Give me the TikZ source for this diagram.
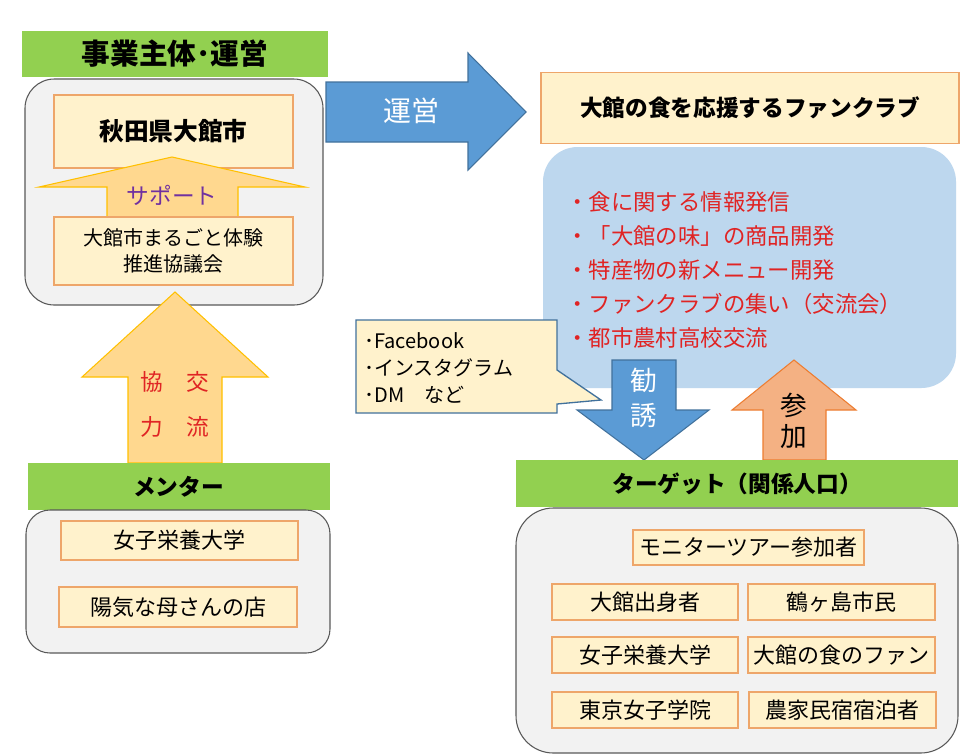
\documentclass[tikz,border=0pt]{standalone}
\usepackage{fontspec}
\setmainfont{Noto Sans CJK JP}
\usepackage{xcolor}
\usepackage{tikz}
\usetikzlibrary{positioning}
\definecolor{hdrgreen}{HTML}{92D050}
\definecolor{panelgray}{HTML}{F2F2F2}
\definecolor{paneledge}{HTML}{595959}
\definecolor{creamfill}{HTML}{FFF2CC}
\definecolor{creamedge}{HTML}{EEA66A}
\definecolor{actblue}{HTML}{BDD7EE}
\definecolor{arrblue}{HTML}{5B9BD5}
\definecolor{arrblueedge}{HTML}{41719C}
\definecolor{arryel}{HTML}{FFD88F}
\definecolor{arrgold}{HTML}{FFC000}
\definecolor{arrsalmon}{HTML}{F4B183}
\definecolor{arrsalmonedge}{HTML}{ED7D31}
\definecolor{listred}{HTML}{E02424}
\definecolor{suppurple}{HTML}{7030A0}
\tikzset{
  hdr/.style={fill=hdrgreen,draw=none,inner sep=0pt,font=\bfseries\fontsize{17}{20}\selectfont},
  panel/.style={fill=panelgray,draw=paneledge,line width=0.8pt,inner sep=0pt,rounded corners=22pt},
  cream/.style={fill=creamfill,draw=creamedge,line width=1pt,inner sep=0pt,font=\fontsize{16.5}{20}\selectfont,align=center},
  blkyel/.style={fill=arryel,draw=arrgold,line width=0.8pt,line join=miter},
  blkblue/.style={fill=arrblue,draw=arrblueedge,line width=0.8pt,line join=miter},
  blksalmon/.style={fill=arrsalmon,draw=arrsalmonedge,line width=0.8pt,line join=miter},
  arrlbl/.style={inner sep=0pt,font=\fontsize{20}{24}\selectfont},
}
\begin{document}
\begin{tikzpicture}[x=0.75pt,y=-0.75pt]
  \path[use as bounding box,fill=white] (0,0) rectangle (970,754);

  % left: business side
  \node[hdr,minimum width=229.5pt,minimum height=34.5pt,font=\bfseries\fontsize{21.5}{24}\selectfont] (hdrA) at (175,54) {事業主体･運営};
  \node[panel,minimum width=223.5pt,minimum height=169.5pt] (panelA) at (174,192) {};
  \node[cream,minimum width=179.25pt,minimum height=54.75pt,font=\bfseries\fontsize{18.5}{22}\selectfont] (akita) at (173.5,131.5) {秋田県大館市};
  \draw[blkyel] (107,217) -- (107,187) -- (39,187) -- (172,157) -- (305,187) -- (238,187) -- (238,217) -- cycle;
  \node[arrlbl,text=suppurple,font=\fontsize{17}{20}\selectfont] (support) at (172,195) {サポート};
  \node[cream,minimum width=179.25pt,minimum height=51pt,font=\fontsize{15}{20}\selectfont] (kyogikai) at (173.5,251) {大館市まるごと体験\\推進協議会};

  \draw[blkyel] (128,463) -- (128,377) -- (82,377) -- (175,292) -- (268,377) -- (222,377) -- (222,463) -- cycle;
  \node[arrlbl,text=listred,font=\fontsize{17}{20}\selectfont] (kyo) at (152,382) {協};
  \node[arrlbl,text=listred,font=\fontsize{17}{20}\selectfont] (ryoku) at (152,427) {力};
  \node[arrlbl,text=listred,font=\fontsize{17}{20}\selectfont] (kou) at (198,382) {交};
  \node[arrlbl,text=listred,font=\fontsize{17}{20}\selectfont] (ryu) at (198,427) {流};

  % left: mentors
  \node[hdr,minimum width=226.5pt,minimum height=35.25pt] (hdrM) at (178.5,486.5) {メンター};
  \node[panel,minimum width=228pt,minimum height=107.25pt,rounded corners=18pt] (panelM) at (178,581.5) {};
  \node[cream,minimum width=177.75pt,minimum height=29.25pt] (eiyoM) at (179.5,540.5) {女子栄養大学};
  \node[cream,minimum width=178.5pt,minimum height=30pt] (haha) at (178,607) {陽気な母さんの店};

  % operation arrow
  \draw[blkblue] (326,82) -- (468,82) -- (468,53) -- (526,112) -- (468,170) -- (468,142) -- (326,142) -- cycle;
  \node[arrlbl,text=white,font=\fontsize{21}{24}\selectfont] (unei) at (411,111) {運営};

  % right: fan club
  \node[cream,minimum width=313.5pt,minimum height=53.25pt,font=\bfseries\fontsize{17}{20}\selectfont] (fan) at (750,108) {大館の食を応援するファンクラブ};
  \node[fill=actblue,draw=none,rounded corners=26pt,minimum width=309.75pt,minimum height=180.75pt] (act) at (749.5,267.5) {};
  \node[anchor=west,align=left,inner sep=0pt,text=listred,font=\fontsize{16.8}{25.5}\selectfont] (acts) at (566,270)
    {・食に関する情報発信\\・「大館の味」の商品開発\\・特産物の新メニュー開発\\・ファンクラブの集い（交流会）\\・都市農村高校交流};

  \draw[fill=creamfill,draw=arrblueedge,line width=1pt,line join=miter] (356,320) -- (557,320) -- (557,370) -- (601,400) -- (557,404) -- (557,413) -- (356,413) -- cycle;
  \node[anchor=west,align=left,inner sep=0pt,font=\fontsize{15}{20.5}\selectfont] (sns) at (364,368)
    {･Facebook\\･インスタグラム\\･DM\quad など};

  \draw[blkblue] (612,360) -- (676,360) -- (676,410) -- (709,410) -- (644,460) -- (577,410) -- (612,410) -- cycle;
  \node[arrlbl,text=white] (kan) at (644,380) {勧};
  \node[arrlbl,text=white] (yuu) at (644,415) {誘};
  \draw[blksalmon] (763,460) -- (763,410) -- (732,410) -- (794,360) -- (856,410) -- (826,410) -- (826,460) -- cycle;
  \node[arrlbl] (san) at (794,405) {参};
  \node[arrlbl] (ka) at (794,437) {加};

  % right: target
  \node[hdr,minimum width=331.5pt,minimum height=35.25pt] (hdrT) at (737,483.5) {ターゲット（関係人口）};
  \node[panel,minimum width=331.5pt,minimum height=183.75pt,rounded corners=28pt] (panelT) at (737,630.5) {};
  \node[cream,minimum width=173.25pt,minimum height=26.25pt] (monitor) at (748.5,547.5) {モニターツアー参加者};
  \node[cream,minimum width=139.5pt,minimum height=27pt] (shusshin) at (645,602) {大館出身者};
  \node[cream,minimum width=140.25pt,minimum height=27pt] (tsuru) at (841.5,602) {鶴ヶ島市民};
  \node[cream,minimum width=139.5pt,minimum height=27pt] (eiyoT) at (645,655) {女子栄養大学};
  \node[cream,minimum width=140.25pt,minimum height=27pt] (shokufan) at (841.5,655) {大館の食のファン};
  \node[cream,minimum width=139.5pt,minimum height=27pt] (tokyo) at (645,710) {東京女子学院};
  \node[cream,minimum width=140.25pt,minimum height=27pt] (minshuku) at (842.5,710) {農家民宿宿泊者};
\end{tikzpicture}
\end{document}
